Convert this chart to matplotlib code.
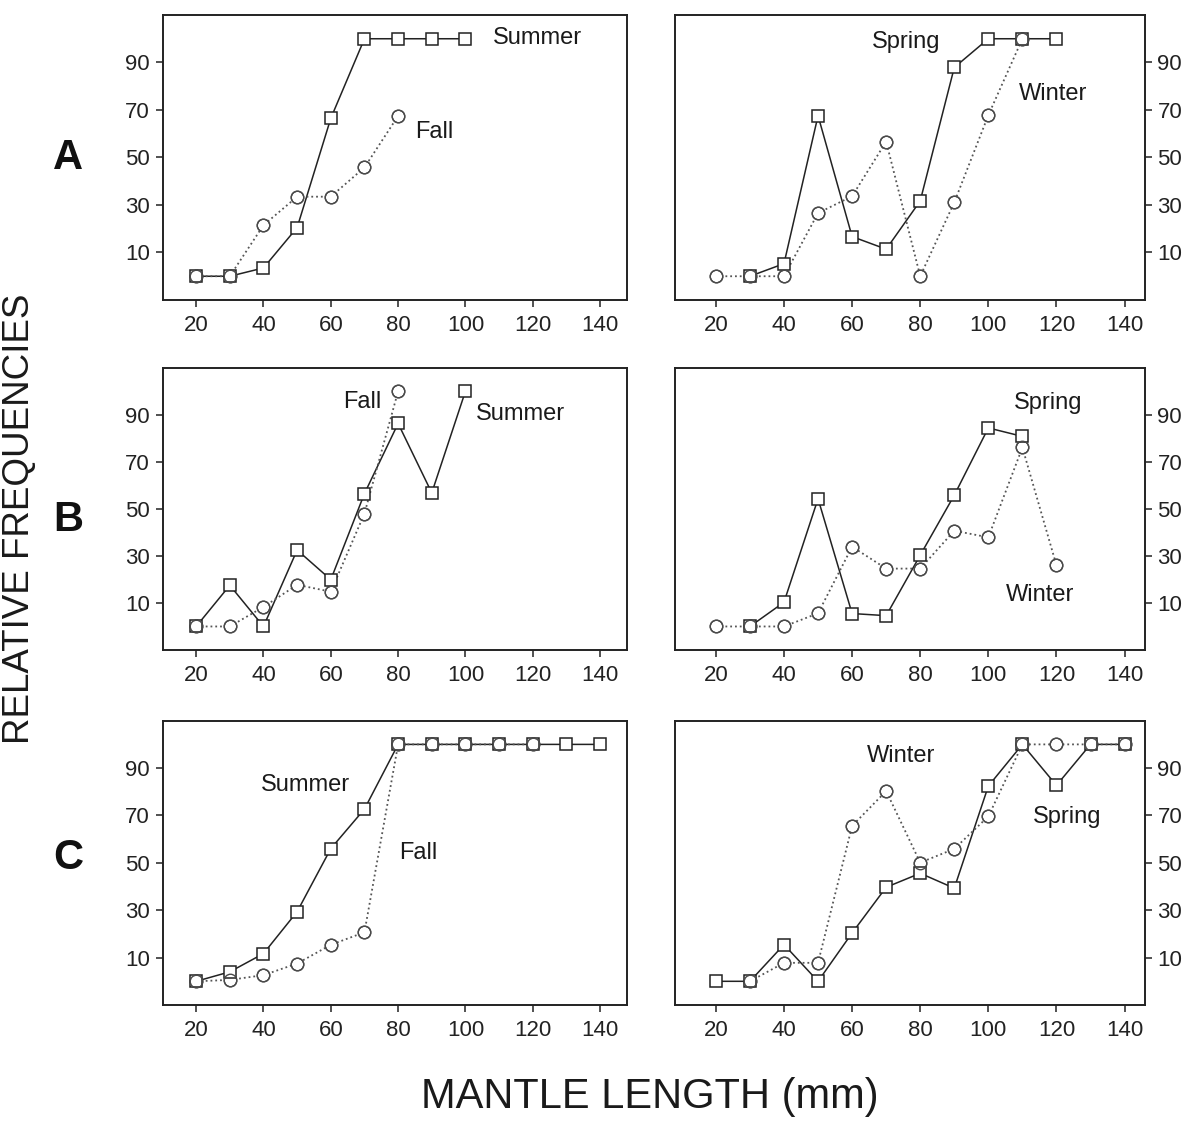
import matplotlib
matplotlib.use("Agg")
import matplotlib.pyplot as plt

plt.rcParams['font.family'] = ['Liberation Sans', 'DejaVu Sans']

# ---------------- data ----------------
# Row A
a_left_sq_x = [20, 30, 40, 50, 60, 70, 80, 90, 100]
a_left_sq_y = [0, 0, 3.5, 20.5, 66.5, 100, 100, 100, 100]          # Summer
a_left_ci_x = [20, 30, 40, 50, 60, 70, 80]
a_left_ci_y = [0, 0, 21.5, 33.5, 33.5, 45.8, 67.5]                 # Fall

a_right_sq_x = [30, 40, 50, 60, 70, 80, 90, 100, 110, 120]
a_right_sq_y = [0, 5.3, 67.6, 16.7, 11.4, 31.7, 87.9, 100, 100, 100]   # Spring
a_right_ci_x = [20, 30, 40, 50, 60, 70, 80, 90, 100, 110]
a_right_ci_y = [0, 0, 0, 26.6, 33.7, 56.7, 0, 31.1, 67.8, 100]        # Winter

# Row B
b_left_sq_x = [20, 30, 40, 50, 60, 70, 80, 90, 100]
b_left_sq_y = [0, 17.5, 0, 32.5, 19.9, 56.5, 86.3, 56.8, 100]      # Summer
b_left_ci_x = [20, 30, 40, 50, 60, 70, 80]
b_left_ci_y = [0, 0, 8.3, 17.7, 14.8, 48, 100]                     # Fall

b_right_sq_x = [30, 40, 50, 60, 70, 80, 90, 100, 110]
b_right_sq_y = [0, 10.3, 54.3, 5.5, 4.6, 30.3, 55.8, 84.4, 80.8]   # Spring
b_right_ci_x = [20, 30, 40, 50, 60, 70, 80, 90, 100, 110, 120]
b_right_ci_y = [0, 0, 0, 5.6, 33.9, 24.6, 24.6, 40.7, 37.9, 76.1, 26]  # Winter

# Row C
c_left_sq_x = [20, 30, 40, 50, 60, 70, 80, 90, 100, 110, 120, 130, 140]
c_left_sq_y = [0, 4, 11.7, 29.4, 56, 72.7, 100, 100, 100, 100, 100, 100, 100]  # Summer
c_left_ci_x = [20, 30, 40, 50, 60, 70, 80, 90, 100, 110, 120]
c_left_ci_y = [0, 0.6, 2.6, 7.5, 15.4, 20.7, 100, 100, 100, 100, 100]          # Fall

c_right_sq_x = [20, 30, 40, 50, 60, 70, 80, 90, 100, 110, 120, 130, 140]
c_right_sq_y = [0, 0, 15.5, 0, 20.4, 39.7, 45.6, 39.3, 82.4, 100, 82.7, 100, 100]  # Spring
c_right_ci_x = [30, 40, 50, 60, 70, 80, 90, 100, 110, 120, 130, 140]
c_right_ci_y = [0, 7.8, 7.8, 65.6, 80.3, 50.1, 55.9, 69.6, 100, 100, 100, 100]    # Winter

x_ticks = [20, 40, 60, 80, 100, 120, 140]
y_ticks = [10, 30, 50, 70, 90]
row_labels = ['A', 'B', 'C']

panels = [
    (0, 0, a_left_sq_x, a_left_sq_y, a_left_ci_x, a_left_ci_y,
     [('Summer', 121.3, 100.5), ('Fall', 90.8, 60.8)]),
    (0, 1, a_right_sq_x, a_right_sq_y, a_right_ci_x, a_right_ci_y,
     [('Spring', 76, 98.8), ('Winter', 119, 76.6)]),
    (1, 0, b_left_sq_x, b_left_sq_y, b_left_ci_x, b_left_ci_y,
     [('Fall', 69.3, 95.5), ('Summer', 116.3, 90.3)]),
    (1, 1, b_right_sq_x, b_right_sq_y, b_right_ci_x, b_right_ci_y,
     [('Spring', 117.5, 95), ('Winter', 115.3, 13.5)]),
    (2, 0, c_left_sq_x, c_left_sq_y, c_left_ci_x, c_left_ci_y,
     [('Summer', 52.4, 82.8), ('Fall', 86.1, 54.2)]),
    (2, 1, c_right_sq_x, c_right_sq_y, c_right_ci_x, c_right_ci_y,
     [('Winter', 74.4, 94.9), ('Spring', 123, 69.2)]),
]

W, H = 1196, 1125
fig = plt.figure(figsize=(W / 100, H / 100), dpi=100)

col_px = [(162.5, 627), (675, 1145)]
row_px = [(15, 300), (367.7, 650), (720.7, 1005)]

txt_color = '#1a1a1a'
sq_col = '#222222'
ci_col = '#4a4a4a'

for row, col, sx, sy, cx, cy, labels in panels:
    x0, x1 = col_px[col]
    y0, y1 = row_px[row]
    ax = fig.add_axes([x0 / W, 1 - y1 / H, (x1 - x0) / W, (y1 - y0) / H])
    # lines
    ax.plot(sx, sy, linestyle='-', color=sq_col, linewidth=1.1, zorder=1)
    ax.plot(cx, cy, linestyle=':', color='#555555', linewidth=1.3, zorder=1)
    # circle markers (white filled)
    ax.plot(cx, cy, linestyle='none', marker='o', markersize=9,
            markerfacecolor='white', markeredgecolor=ci_col,
            markeredgewidth=1.0, zorder=2)
    # square markers (white filled)
    ax.plot(sx, sy, linestyle='none', marker='s', markersize=8.5,
            markerfacecolor='white', markeredgecolor=sq_col,
            markeredgewidth=1.1, zorder=3)
    # circle outlines on top so both symbols remain visible where they coincide
    ax.plot(cx, cy, linestyle='none', marker='o', markersize=9,
            markerfacecolor='none', markeredgecolor=ci_col,
            markeredgewidth=1.0, zorder=4)
    for t, tx, ty in labels:
        ax.text(tx, ty, t, ha='center', va='center', fontsize=17,
                color=txt_color)
    if col == 0:
        ax.set_xlim(10, 148)
    else:
        ax.set_xlim(8, 146)
    ax.set_ylim(-10, 110)
    ax.set_xticks(x_ticks)
    ax.set_yticks(y_ticks)
    ax.tick_params(axis='both', direction='out', length=5, width=1.1,
                   labelsize=16, colors='#222222', pad=4)
    ax.tick_params(axis='x', pad=6)
    if col == 1:
        ax.yaxis.tick_right()
        ax.tick_params(axis='y', left=False, right=True)
    ax.xaxis.tick_bottom()
    for s in ax.spines.values():
        s.set_linewidth(1.4)
        s.set_color('#222222')

# row labels
row_label_y = [158, 520, 858]
for lab, yy in zip(row_labels, row_label_y):
    fig.text(68 / W, 1 - yy / H, lab, ha='center', va='center',
             fontsize=30, fontweight='bold', color='#111111')

fig.text(20 / W, 1 - 519 / H, 'RELATIVE FREQUENCIES', rotation=90,
         ha='center', va='center', fontsize=26.5, color=txt_color)
fig.text(650 / W, 1 - 1108 / H, 'MANTLE LENGTH (mm)', ha='center',
         va='baseline', fontsize=30, color=txt_color)

fig.savefig('out.png', dpi=100)
